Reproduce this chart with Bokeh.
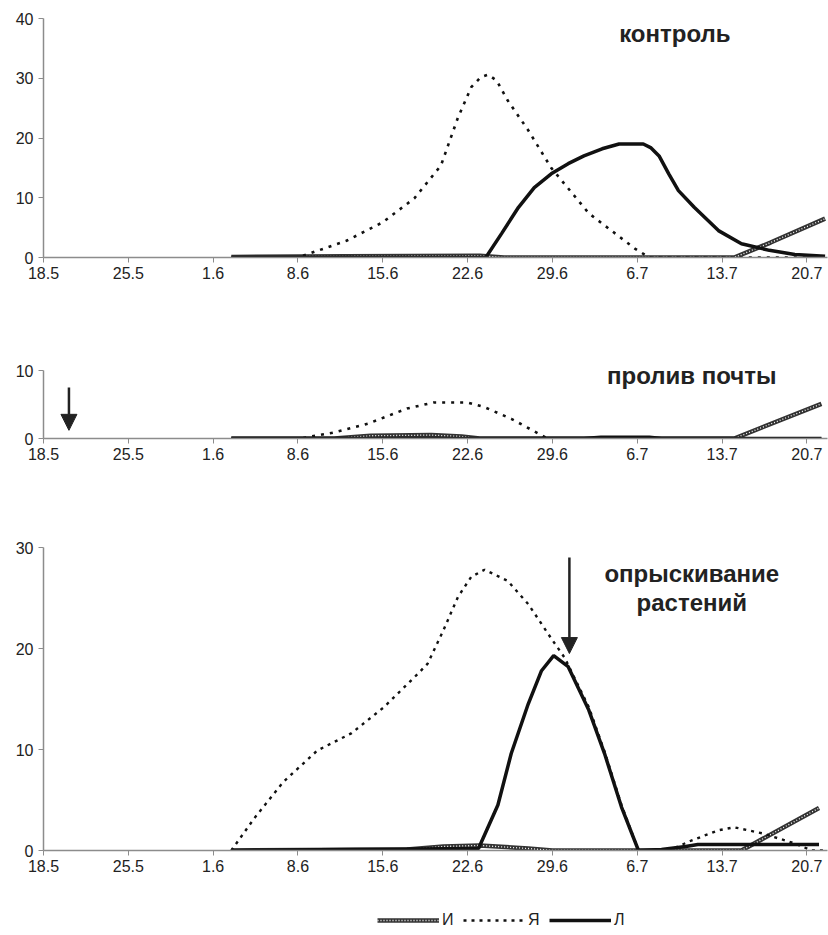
from bokeh.plotting import figure
from bokeh.models import Range1d, FixedTicker, Label, Arrow, NormalHead, Legend, LegendItem
from bokeh.layouts import column
from bokeh.embed import file_html
from bokeh.resources import INLINE

# x positions are days counted from 18 May
tick_days = [0, 7, 14, 21, 28, 35, 42, 49, 56, 63]
tick_labels = ["18.5", "25.5", "1.6", "8.6", "15.6", "22.6", "29.6", "6.7", "13.7", "20.7"]

# ---- panel 1: контроль
ctrl_I_x = [15.5, 25, 36, 38, 57, 60, 64.5]
ctrl_I_y = [0.1, 0.2, 0.3, 0.0, 0.0, 2.5, 6.5]
ctrl_Ya_x = [15.5, 21, 22, 25, 28, 30.6, 32.8, 34.2, 35.3, 36.1, 36.7, 37.4, 38.3, 40, 41.9, 45, 48.8, 50, 57, 64.5]
ctrl_Ya_y = [0, 0, 0.7, 2.8, 5.9, 9.9, 15.4, 23.4, 28.5, 30.2, 30.6, 29.6, 26.3, 21.3, 15, 7.4, 1.5, 0, 0, 0]
ctrl_L_x = [15.5, 36.5, 37.8, 39.2, 40.5, 41.9, 43.3, 44.6, 46.1, 47.5, 49.5, 50.1, 50.8, 51.6, 52.4, 53.7, 55.7, 57.6, 59.9, 62, 64.5]
ctrl_L_y = [0, 0, 4, 8.4, 11.7, 14, 15.7, 17, 18.2, 19, 19, 18.4, 17, 14, 11.2, 8.4, 4.5, 2.3, 1.2, 0.5, 0.2]

# ---- panel 2: пролив почты
soil_I_x = [15.5, 24, 27, 32, 34.5, 36, 57, 64.2]
soil_I_y = [0, 0, 0.4, 0.5, 0.3, 0, 0, 5.1]
soil_Ya_x = [15.5, 21.2, 24, 26.8, 30, 32.2, 35, 36.4, 38.6, 41.6, 50, 64.2]
soil_Ya_y = [0, 0, 0.9, 2.2, 4.4, 5.3, 5.3, 4.6, 2.9, 0, 0, 0]
soil_L_x = [15.5, 44.6, 46, 50, 51, 64.2]
soil_L_y = [0, 0, 0.2, 0.2, 0, 0]

# ---- panel 3: опрыскивание растений
spray_I_x = [15.5, 30, 33, 36, 40, 42, 57.6, 64]
spray_I_y = [0, 0.1, 0.4, 0.5, 0.2, 0, 0, 4.2]
spray_Ya_x = [15.5, 17.4, 19.8, 22.6, 25.4, 28.1, 30.9, 31.7, 33, 34.2, 35.3, 36.4, 38.3, 40, 41.9, 43,
              45, 46.3, 47.7, 49.1, 51.6, 53.5, 55.7, 57, 59.3, 62, 63.4, 64.5]
spray_Ya_y = [0, 3.2, 6.8, 9.9, 11.6, 14.2, 17.5, 18.5, 21.8, 25.1, 27.1, 27.8, 26.7, 24.4, 21, 19.1,
              14.2, 9.8, 4.5, 0, 0, 1, 2, 2.3, 1.7, 0.7, 0, 0]
spray_L_x = [15.5, 35.9, 37.5, 38.6, 40, 41.1, 42.1, 43.3, 45, 46.3, 47.7, 49.1, 51, 53, 54, 64]
spray_L_y = [0, 0.2, 4.5, 9.6, 14.5, 17.8, 19.3, 18.2, 13.9, 9.6, 4.3, 0, 0.1, 0.4, 0.6, 0.6]

series_names = ["И", "Я", "Л"]

FONT = "Liberation Sans"
TXT = "#222222"
AX = "#8c8c8c"
I_OUT = dict(line_color="#333333", line_width=4.5)
I_IN = dict(line_color="white", line_width=1.3, line_dash="1 2")
L_STY = dict(line_color="#111111", line_width=3.5)


def make_panel(height, top, bottom, ymax, yticks):
    p = figure(width=828, height=height, x_range=Range1d(0, 64.7), y_range=Range1d(0, ymax),
               output_backend="svg", toolbar_location=None,
               min_border_left=43, min_border_right=1, min_border_top=top, min_border_bottom=bottom)
    p.grid.visible = False
    p.outline_line_color = None
    p.background_fill_color = "white"
    p.border_fill_color = "white"
    p.xaxis.ticker = FixedTicker(ticks=tick_days)
    p.xaxis.major_label_overrides = {d: l for d, l in zip(tick_days, tick_labels)}
    p.yaxis.ticker = FixedTicker(ticks=yticks)
    for ax in (p.xaxis, p.yaxis):
        ax.axis_line_color = AX
        ax.axis_line_width = 1.5
        ax.major_tick_line_color = AX
        ax.major_tick_out = 5
        ax.major_tick_in = 0
        ax.minor_tick_line_color = None
        ax.major_label_text_font = FONT
        ax.major_label_text_font_size = "16px"
        ax.major_label_text_color = TXT
    p.xaxis.major_label_standoff = 4
    p.yaxis.major_label_standoff = 5
    return p


def draw_series(p, ix, iy, yx, yy, lx, ly, dot_dash="3 6", dot_w=2.6):
    p.line(ix, iy, **I_OUT)
    p.line(ix, iy, **I_IN)
    p.line(lx, ly, **L_STY)
    p.line(yx, yy, line_color="#111111", line_width=dot_w, line_dash=dot_dash)


def title(p, x, y, t):
    p.add_layout(Label(x=x, y=y, text=t, text_font=FONT, text_font_style="bold",
                       text_font_size="24px", text_color=TXT, text_align="center",
                       text_baseline="middle"))


p1 = make_panel(300, 18, 43, 40, [0, 10, 20, 30, 40])
draw_series(p1, ctrl_I_x, ctrl_I_y, ctrl_Ya_x, ctrl_Ya_y, ctrl_L_x, ctrl_L_y)
title(p1, 52.1, 37.5, "контроль")

p2 = make_panel(170, 70, 32, 10, [0, 10])
draw_series(p2, soil_I_x, soil_I_y, soil_Ya_x, soil_Ya_y, soil_L_x, soil_L_y)
title(p2, 53.5, 9.3, "пролив почты")
p2.add_layout(Arrow(x_start=2.1, y_start=7.5, x_end=2.1, y_end=1.2, line_width=2.5, line_color="#222222",
                    end=NormalHead(size=16, fill_color="#222222", line_color="#222222")))

p3 = make_panel(410, 77, 30, 30, [0, 10, 20, 30])
draw_series(p3, spray_I_x, spray_I_y, spray_Ya_x, spray_Ya_y, spray_L_x, spray_L_y,
            dot_dash="3 5", dot_w=2.4)
title(p3, 53.5, 27.4, "опрыскивание")
title(p3, 53.5, 24.6, "растений")
p3.add_layout(Arrow(x_start=43.4, y_start=29, x_end=43.4, y_end=19.5, line_width=2.5, line_color="#222222",
                    end=NormalHead(size=16, fill_color="#222222", line_color="#222222")))

# legend strip: key renderers sit outside the strip's visible range, only their samples show
p4 = figure(width=828, height=55, x_range=Range1d(0, 1), y_range=Range1d(0, 1),
            output_backend="svg", toolbar_location=None, min_border=0,
            x_axis_location=None, y_axis_location=None)
p4.grid.visible = False
p4.outline_line_color = None
off_x = [5, 6]
off_y = [5, 6]
lg_i1 = p4.line(off_x, off_y, **I_OUT)
lg_i2 = p4.line(off_x, off_y, **I_IN)
lg_y = p4.line(off_x, off_y, line_color="#111111", line_width=2.4, line_dash="3 5")
lg_l = p4.line(off_x, off_y, **L_STY)
legend = Legend(items=[LegendItem(label=series_names[0], renderers=[lg_i1, lg_i2]),
                       LegendItem(label=series_names[1], renderers=[lg_y]),
                       LegendItem(label=series_names[2], renderers=[lg_l])],
                orientation="horizontal", location=(334, 5),
                glyph_width=62, glyph_height=20, label_standoff=3, spacing=1,
                label_text_font=FONT, label_text_font_size="16px", label_text_color=TXT,
                border_line_color=None, background_fill_alpha=0, padding=0, margin=0)
p4.add_layout(legend)

layout = column(p1, p2, p3, p4, spacing=0)
open("out.html", "w").write(file_html(layout, INLINE))
